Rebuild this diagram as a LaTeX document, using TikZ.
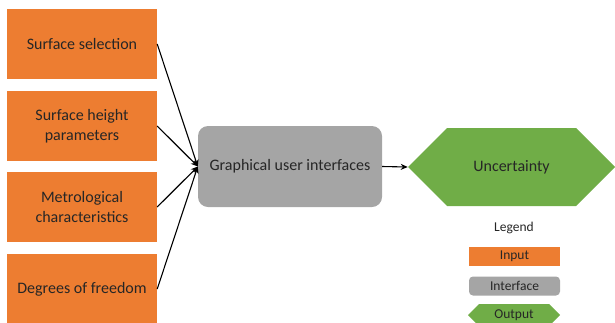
\documentclass[tikz,border=0pt]{standalone}
\usepackage{fontspec}
\setmainfont{Carlito}
\usetikzlibrary{shapes.symbols,arrows.meta}

\definecolor{inorange}{HTML}{ED7D31}
\definecolor{guigray}{HTML}{A5A5A5}
\definecolor{outgreen}{HTML}{70AD47}
\definecolor{boxtext}{HTML}{262626}

\tikzset{
  inbox/.style={fill=inorange, minimum width=150pt, minimum height=70pt,
    inner sep=0pt, align=center, text=boxtext, font=\fontsize{16}{20}\selectfont},
  guibox/.style={fill=guigray, rounded corners=10pt, minimum width=184pt,
    minimum height=81pt, inner sep=0pt, text=boxtext, font=\fontsize{16}{20}\selectfont},
  outhex/.style={signal, signal to=east and west, signal pointer angle=90,
    fill=outgreen, inner sep=0pt, text=boxtext, font=\fontsize{16}{20}\selectfont},
  keybox/.style={minimum width=91pt, minimum height=19pt, inner sep=0pt,
    text=boxtext, font=\fontsize{13.5}{16}\selectfont},
  link/.style={-{Stealth[length=7pt,width=6pt]}, line width=1.1pt, black}
}

\begin{document}
\begin{tikzpicture}[x=1pt,y=-1pt]
\useasboundingbox (0,0) rectangle (615,322);
% inputs
\node[inbox] (surf) at (82,44) {Surface selection};
\node[inbox] (height) at (82,126) {Surface height\\parameters};
\node[inbox] (metro) at (82,207) {Metrological\\characteristics};
\node[inbox] (dof) at (82,289) {Degrees of freedom};
% interface and output
\node[guibox] (gui) at (290,166.5) {Graphical user interfaces};
\node[outhex, minimum width=207pt, minimum height=78pt] (unc) at (511.5,167) {Uncertainty};
\draw[link] (surf.east) -- (gui.west);
\draw[link] (height.east) -- (gui.west);
\draw[link] (metro.east) -- (gui.west);
\draw[link] (dof.east) -- (gui.west);
\draw[link] (gui.east) -- (unc.west);
% legend
\node[text=boxtext, font=\fontsize{13.5}{16}\selectfont] (legend) at (514,228) {Legend};
\node[keybox, fill=inorange] (keyin) at (514.5,256.5) {Input};
\node[keybox, fill=guigray, rounded corners=4pt] (keygui) at (514.5,286) {Interface};
\node[keybox, outhex, minimum width=92pt, minimum height=22pt,
  font=\fontsize{13.5}{16}\selectfont] (keyout) at (514,315) {Output};
\end{tikzpicture}
\end{document}
